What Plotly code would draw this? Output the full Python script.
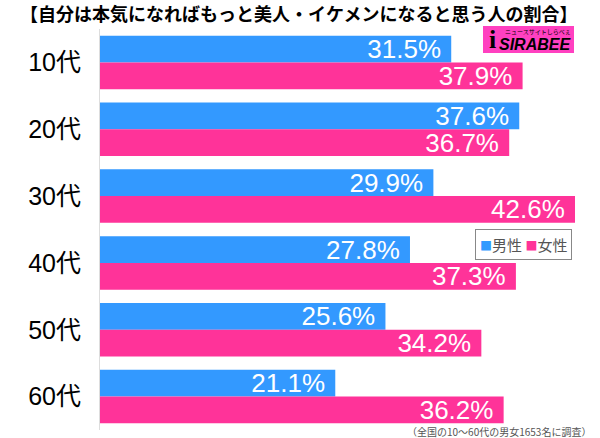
import plotly.graph_objects as go

# データ
ages = ["10代", "20代", "30代", "40代", "50代", "60代"]
male = [31.5, 37.6, 29.9, 27.8, 25.6, 21.1]
female = [37.9, 36.7, 42.6, 37.3, 34.2, 36.2]

TITLE = "【自分は本気になればもっと美人・イケメンになると思う人の割合】"
NOTE = "（全国の10～60代の男女1653名に調査）"

BLUE = "#3399ff"
PINK = "#ff3399"
LOGO_PINK = "#ff40c0"

W, H = 600, 438
L, R, T, B = 100, 25, 29, 8
JP = "Noto Sans CJK JP"
NUM = "Liberation Sans, Noto Sans CJK JP"


def px(x):
    # ピクセル -> paper座標 (x)
    return (x - L) / (W - L - R)


def py(y):
    # ピクセル -> paper座標 (y)
    return (H - B - y) / (H - T - B)


fig = go.Figure()
fig.add_trace(go.Bar(
    y=ages, x=male, name="男性", orientation="h",
    marker=dict(color=BLUE, line=dict(width=0)),
    text=[f"{v}%\u00a0" for v in male],
    textposition="inside", insidetextanchor="end", constraintext="none",
    textfont=dict(family=NUM, size=26, color="white"),
))
fig.add_trace(go.Bar(
    y=ages, x=female, name="女性", orientation="h",
    marker=dict(color=PINK, line=dict(width=0)),
    text=[f"{v}%\u00a0" for v in female],
    textposition="inside", insidetextanchor="end", constraintext="none",
    textfont=dict(family=NUM, size=26, color="white"),
))

fig.update_layout(
    width=W, height=H,
    margin=dict(l=L, r=R, t=T, b=B),
    paper_bgcolor="white", plot_bgcolor="white",
    barmode="group", bargap=0.2, bargroupgap=0,
    showlegend=False,
    font=dict(family=JP, color="black"),
    xaxis=dict(range=[0, 42.6], visible=False, fixedrange=True, automargin=False),
    yaxis=dict(
        autorange="reversed", showline=True, linecolor="#dddddd", linewidth=1,
        showgrid=False, ticks="", ticklabelstandoff=13, automargin=False,
        tickfont=dict(family=NUM, size=25, color="black"),
    ),
)

# タイトル
fig.add_annotation(
    text=f"<b>{TITLE}</b>", xref="paper", yref="paper",
    x=px(W / 2 - 2), y=py(13), xanchor="center", yanchor="middle",
    showarrow=False, font=dict(family=JP, size=18, color="black"),
)

# 凡例（枠付き）
fig.add_annotation(
    text=(f"<span style='color:{BLUE};font-size:12px'>■</span>男性 "
          f"<span style='color:{PINK};font-size:12px'>■</span>女性"),
    xref="paper", yref="paper", x=px(523), y=py(244),
    xanchor="center", yanchor="middle", showarrow=False,
    font=dict(family=JP, size=15, color="#555555"),
    bordercolor="#888888", borderwidth=1, borderpad=4, bgcolor="white",
)

# 注記
fig.add_annotation(
    text=NOTE, xref="paper", yref="paper", x=px(593), y=py(432),
    xanchor="right", yanchor="middle", showarrow=False,
    font=dict(family=JP, size=10, color="#555555"),
)

# ロゴ（しらべぇ）
fig.add_shape(
    type="rect", xref="paper", yref="paper",
    x0=px(483), x1=px(574), y0=py(53), y1=py(26),
    fillcolor=LOGO_PINK, line=dict(width=0), layer="above",
)
fig.add_annotation(
    text="<b>i</b>", xref="paper", yref="paper", x=px(492), y=py(40),
    xanchor="center", yanchor="middle", showarrow=False,
    font=dict(family="Liberation Serif", size=26, color="black"),
)
fig.add_annotation(
    text="<b><i>SIRABEE</i></b>", xref="paper", yref="paper", x=px(573), y=py(44),
    xanchor="right", yanchor="middle", showarrow=False,
    font=dict(family="Liberation Sans Narrow, Liberation Sans", size=16, color="black"),
)
fig.add_annotation(
    text="ニュースサイトしらべぇ", xref="paper", yref="paper", x=px(573), y=py(32),
    xanchor="right", yanchor="middle", showarrow=False,
    font=dict(family=JP, size=6, color="black"),
)

# ページの余白を消して 600x438 にぴったり合わせる
fig.write_html("out.html", config={"displayModeBar": False},
               post_script="document.body.style.margin='0';")
